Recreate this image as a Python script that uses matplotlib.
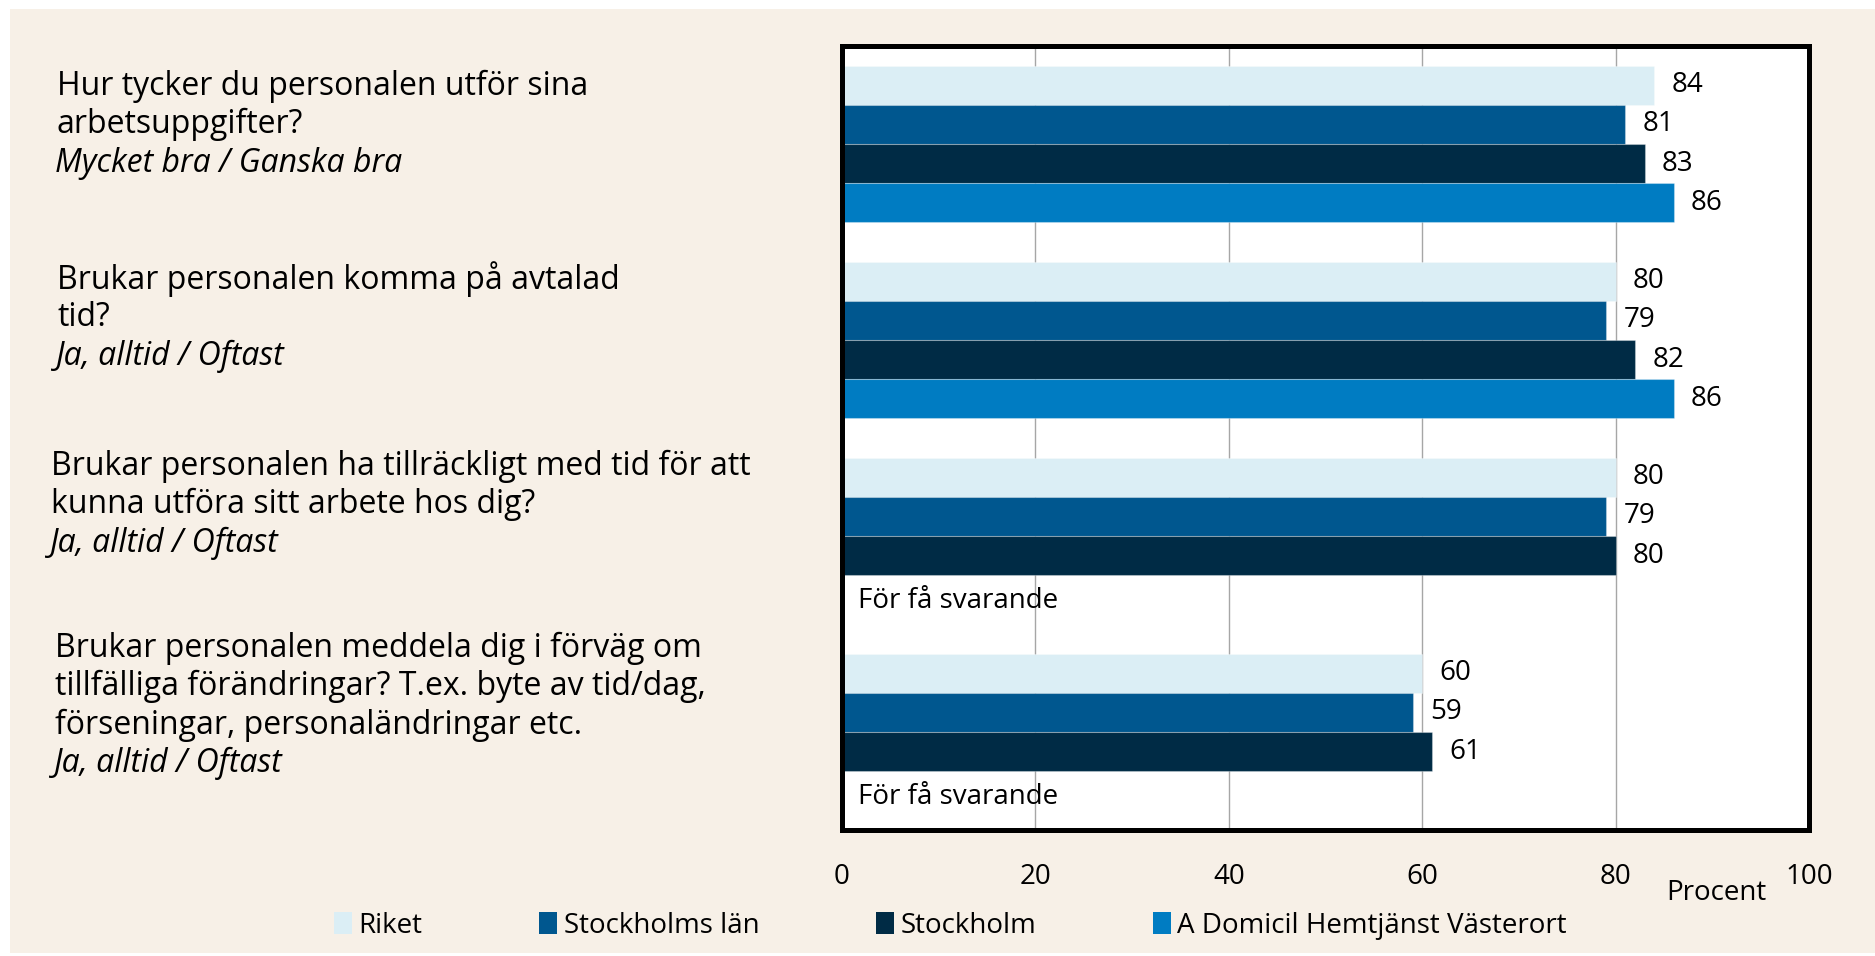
import numpy as np
import matplotlib.pyplot as plt
from matplotlib.patches import Rectangle

plt.rcParams['font.family'] = ['Open Sans', 'DejaVu Sans']

# Data
series = ["Riket", "Stockholms län", "Stockholm", "A Domicil Hemtjänst Västerort"]
colors = ["#dbeef5", "#00578f", "#002b45", "#007cc2"]
riket = [84, 80, 80, 60]
stockholms_lan = [81, 79, 79, 59]
stockholm = [83, 82, 80, 61]
a_domicil = [86, 86, None, None]
questions = [
    ["Hur tycker du personalen utför sina", "arbetsuppgifter?"],
    ["Brukar personalen komma på avtalad", "tid?"],
    ["Brukar personalen ha tillräckligt med tid för att", "kunna utföra sitt arbete hos dig?"],
    ["Brukar personalen meddela dig i förväg om", "tillfälliga förändringar? T.ex. byte av tid/dag,",
     "förseningar, personaländringar etc."],
]
answers = ["Mycket bra / Ganska bra", "Ja, alltid / Oftast", "Ja, alltid / Oftast", "Ja, alltid / Oftast"]
missing_text = "För få svarande"
xticks = [0, 20, 40, 60, 80, 100]

W, H = 1875, 956
fig = plt.figure(figsize=(W / 100, H / 100), dpi=100)
fig.patch.set_facecolor("white")
fig.patches.append(Rectangle((10 / W, 3 / H), 1 - 10 / W, 1 - 12 / H, transform=fig.transFigure,
                             facecolor="#f7f0e7", edgecolor="none", zorder=-5))

ax = fig.add_axes([842 / W, 1 - 830 / H, (1809 - 842) / W, (830 - 46) / H])
ax.set_facecolor("white")

all_values = [riket, stockholms_lan, stockholm, a_domicil]
bar_h = 0.2
fs_q = 23   # question text
fs = 20     # values, ticks, legend
for j, (vals, col) in enumerate(zip(all_values, colors)):
    for i, v in enumerate(vals):
        y = i + (j - 1.5) * bar_h
        if v is None:
            ax.text(1.7, y + 0.03, missing_text, va="center", ha="left", fontsize=fs, color="black")
            continue
        ax.barh(y, v, height=bar_h, color=col, edgecolor=(1, 1, 1, 0.3), linewidth=0.8, zorder=2)
        ax.text(v + 1.8, y, str(v), va="center", ha="left", fontsize=fs, color="black")

ax.set_xlim(0, 100)
ax.set_ylim(3.5, -0.5)
ax.set_xticks(xticks)
ax.set_xticklabels([str(t) for t in xticks], fontsize=fs)
ax.set_yticks([])
ax.tick_params(axis="x", length=0, pad=24)
ax.grid(axis="x", color="#a6a6a6", linewidth=1, zorder=1)
ax.set_axisbelow(True)
for s in ax.spines.values():
    s.set_linewidth(3.6)
    s.set_color("black")

ax.text(0.904, -0.08, "Procent", transform=ax.transAxes, ha="center", va="center", fontsize=fs)

# question labels on the left
first_line_px = [86, 279, 466, 648]
label_x_px = [57, 57, 51, 55]
line_px = 38.5
for q, a, y0, x0 in zip(questions, answers, first_line_px, label_x_px):
    for k, line in enumerate(q):
        fig.text(x0 / W, 1 - (y0 + k * line_px) / H, line, ha="left", va="center", fontsize=fs_q)
    fig.text((x0 - 2) / W, 1 - (y0 + len(q) * line_px) / H, a, ha="left", va="center",
             fontsize=fs_q, style="italic")

handles = [Rectangle((0, 0), 1, 1, facecolor=c, edgecolor="none") for c in colors]
fig.legend(handles, series, loc="center left", bbox_to_anchor=(334 / W, 1 - 926 / H), ncol=4,
           frameon=False, fontsize=fs, handlelength=0.65, handleheight=0.85,
           handletextpad=0.23, columnspacing=4.2, borderaxespad=0, borderpad=0)

fig.savefig("out.png", dpi=100)
